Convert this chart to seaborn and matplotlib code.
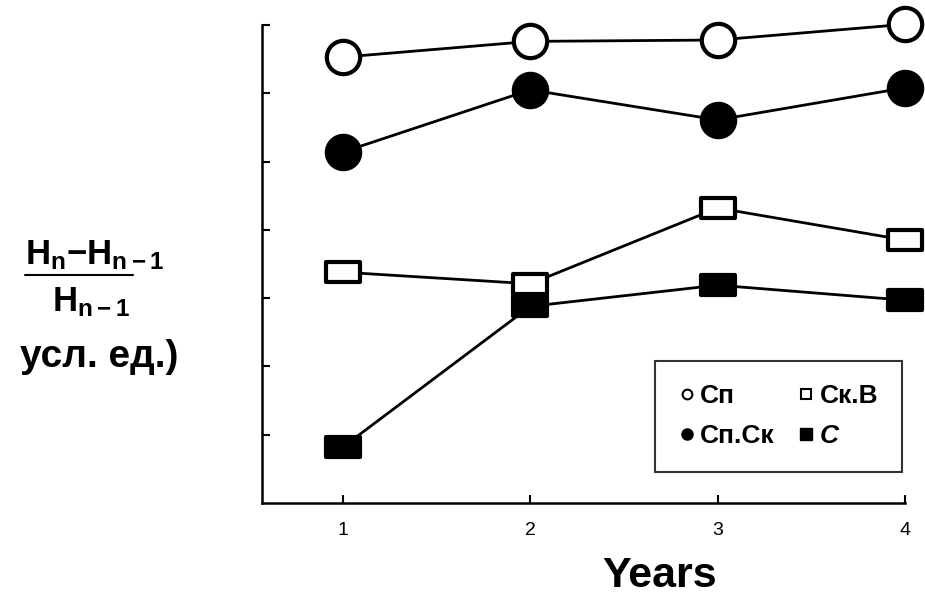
import numpy as np
import pandas as pd
import matplotlib
matplotlib.use("Agg")
import matplotlib.pyplot as plt
from matplotlib.path import Path
from matplotlib.lines import Line2D
import seaborn as sns

years = [1, 2, 3, 4]
sp = [6.53, 6.76, 6.78, 7.01]        # Сп (open circle)
sp_sk = [5.14, 6.05, 5.61, 6.08]     # Сп.Ск (filled circle)
sk_v = [3.38, 3.21, 4.32, 3.85]      # Ск.В (open square)
c_vals = [0.82, 2.88, 3.19, 2.97]    # С (filled square)
labels = ["Сп", "Сп.Ск", "Ск.В", "С"]
x_ticklabels = ["1", "2", "3", "4"]

sns.set_theme(style="white")
plt.rcParams['font.family'] = ['Liberation Sans', 'DejaVu Sans']
plt.rcParams['text.color'] = 'black'
plt.rcParams['xtick.color'] = 'black'
plt.rcParams['ytick.color'] = 'black'
plt.rcParams['mathtext.fontset'] = 'custom'
plt.rcParams['mathtext.rm'] = 'Liberation Sans:bold'
plt.rcParams['mathtext.bf'] = 'Liberation Sans:bold'
plt.rcParams['mathtext.it'] = 'Liberation Sans:bold'

fig = plt.figure(figsize=(9.25, 5.96), dpi=100)
ax = fig.add_axes([262/925, 1-503/596, (905-262)/925, (503-25)/596])

rect = Path([(-1, -0.58), (1, -0.58), (1, 0.58), (-1, 0.58), (-1, -0.58)],
            [Path.MOVETO, Path.LINETO, Path.LINETO, Path.LINETO, Path.CLOSEPOLY])

common = dict(color="black", lw=2, clip_on=False, markeredgecolor="black", markeredgewidth=3)
sns.lineplot(x=years, y=sp, ax=ax, marker="o", markersize=24, markerfacecolor="white", **common)
sns.lineplot(x=years, y=sp_sk, ax=ax, marker="o", markersize=24, markerfacecolor="black", **common)
sns.lineplot(x=years, y=sk_v, ax=ax, marker=rect, markersize=25, markerfacecolor="white", **common)
sns.lineplot(x=years, y=c_vals, ax=ax, marker=rect, markersize=25, markerfacecolor="black", **common)

ax.set_xlim(1 - 81/187.5, 4)
ax.set_ylim(0, 7)
ax.set_xticks(years)
ax.set_xticklabels(x_ticklabels, fontsize=14, color="black")
ax.set_yticks(range(1, 8))
ax.set_yticklabels([])
ax.tick_params(axis="both", direction="in", length=6, width=1.5, color="black",
               left=True, bottom=True, pad=14, labelcolor="black")
for s in ["top", "right"]:
    ax.spines[s].set_visible(False)
for s in ["left", "bottom"]:
    ax.spines[s].set_color("black")
    ax.spines[s].set_linewidth(1.8)
ax.set_xlabel("")
ax.set_ylabel("")
ax.patch.set_alpha(0)

handles = [
    Line2D([], [], ls="", marker="o", markersize=7, markerfacecolor="white", markeredgecolor="black", markeredgewidth=1.5),
    Line2D([], [], ls="", marker="o", markersize=8, markerfacecolor="black", markeredgecolor="black"),
    Line2D([], [], ls="", marker="s", markersize=7, markerfacecolor="white", markeredgecolor="black", markeredgewidth=1.5),
    Line2D([], [], ls="", marker="s", markersize=8, markerfacecolor="black", markeredgecolor="black"),
]
leg = ax.legend(handles, labels, ncol=2, loc="lower right", bbox_to_anchor=((902-262)/643, (503-472)/478),
                frameon=True, fancybox=False, edgecolor="black", borderaxespad=0,
                prop={"weight": "bold", "size": 19}, handlelength=0.6, handletextpad=0.2,
                columnspacing=0.9, borderpad=0.9, labelspacing=0.6)
leg.get_frame().set_linewidth(1.5)
for t in leg.get_texts():
    t.set_color("black")
leg.get_texts()[3].set_style("italic")

fig.text(660/925, 1-576/596, "Years", ha="center", va="center", fontsize=31, fontweight="bold", color="black")
fig.text(95/925, 1-255/596, r"$\mathbf{H_{n}{-}H_{n-1}}$", ha="center", va="center", fontsize=25, color="black")
fig.add_artist(Line2D([25/925, 133/925], [1-275/596, 1-275/596], color="black", lw=1.5))
fig.text(91/925, 1-302/596, r"$\mathbf{H_{n-1}}$", ha="center", va="center", fontsize=25, color="black")
fig.text(99/925, 1-357/596, "усл. ед.)", ha="center", va="center", fontsize=28, fontweight="bold", color="black")

fig.savefig("out.png", dpi=100)
